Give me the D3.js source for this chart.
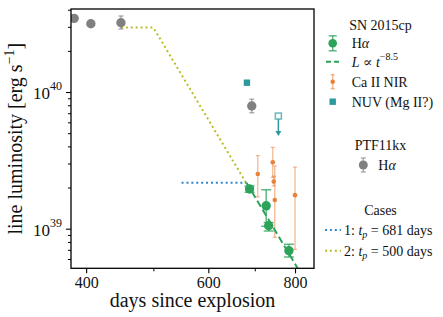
<!DOCTYPE html>
<html><head><meta charset="utf-8">
<script src="https://cdn.jsdelivr.net/npm/d3@7"></script>
<style>body{margin:0;background:#fff}svg{font-family:"Liberation Serif","DejaVu Serif",serif}</style>
</head><body><svg id="c" width="443" height="317"></svg>
<script>
// ---- data ----
const haDays = [688, 727, 733, 784];
const haLum  = [1.95e39, 1.47e39, 1.05e39, 6.9e38];
const haLo   = [1.85e39, 1.04e39, 0.96e39, 6.2e38];
const haHi   = [2.05e39, 1.93e39, 1.11e39, 7.7e38];
const caDays = [707, 743, 745.5, 748, 800];
const caLum  = [2.51e39, 3.06e39, 2.21e39, 1.62e39, 1.76e39];
const caLo   = [1.71e39, 2.37e39, 2.06e39, 8.65e38, 7.06e38];
const caHi   = [3.42e39, 3.94e39, 2.42e39, 2.88e39, 2.82e39];
const nuvDays = [682], nuvLum = [1.17e40];
const nuvLimDays = [757], nuvLimLum = [6.67e39];
const ptfDays = [384.4, 406.3, 449, 693];
const ptfLum  = [3.46e40, 3.16e40, 3.21e40, 7.9e39];
const ptfLo   = [3.4e40, 3.1e40, 2.89e40, 7.06e39];
const ptfHi   = [3.52e40, 3.22e40, 3.6e40, 8.84e39];
const case1Days = [549, 681], case1Lum = [2.17e39, 2.17e39];
const case2Days = [449, 500, 681], case2Lum = [2.96e40, 2.96e40, 2.14e39];
const plDays = [681, 830], plLum = [2.17e39, 4.04e38];
const xTicks = [400, 600, 800], xMinor = [500, 700];
const yTicks = [1e39, 1e40];
const yTickExp = ["39", "40"];

// ---- styles ----
const GREEN = "#2ca25a", ORANGE = "#e8823a", TEAL = "#2b9a9c", GRAY = "#808080",
      BLUE = "#2f86c8", OLIVE = "#bcbd22";
const L = 71, R = 314, T = 9, B = 268.3;
const svg = d3.select("#c");
const x = d3.scaleLog().domain([380.4, 852]).range([L, R]);
const y = d3.scaleLog().domain([5.13e38, 4.05e40]).range([B, T]);

svg.append("defs").append("clipPath").attr("id", "clip")
  .append("rect").attr("x", L).attr("y", T).attr("width", R - L).attr("height", B - T);
const g = svg.append("g").attr("clip-path", "url(#clip)");

const line = d3.line().x(d => x(d[0])).y(d => y(d[1]));
const zip = (a, b) => a.map((v, i) => [v, b[i]]);

// model lines
g.append("path").attr("d", line(zip(case2Days, case2Lum))).attr("fill", "none")
  .attr("stroke", OLIVE).attr("stroke-width", 2).attr("stroke-dasharray", "2,2.9");
g.append("path").attr("d", line(zip(case1Days, case1Lum))).attr("fill", "none")
  .attr("stroke", BLUE).attr("stroke-width", 2).attr("stroke-dasharray", "2,2.9");

function errbars(days, lo, hi, color, cap, op, sw) {
  days.forEach((d, i) => {
    const xx = x(d);
    g.append("line").attr("x1", xx).attr("x2", xx).attr("y1", y(lo[i])).attr("y2", y(hi[i]))
      .attr("stroke", color).attr("stroke-opacity", op).attr("stroke-width", sw);
    [lo[i], hi[i]].forEach(v => g.append("line").attr("x1", xx - cap).attr("x2", xx + cap)
      .attr("y1", y(v)).attr("y2", y(v)).attr("stroke", color).attr("stroke-opacity", op).attr("stroke-width", sw));
  });
}

// PTF11kx
errbars(ptfDays, ptfLo, ptfHi, GRAY, 2.5, 0.6, 1.5);
ptfDays.forEach((d, i) => g.append("circle").attr("cx", x(d)).attr("cy", y(ptfLum[i])).attr("r", 4.7).attr("fill", GRAY));

// Ca II
errbars(caDays, caLo, caHi, ORANGE, 2, 0.55, 1.3);
caDays.forEach((d, i) => g.append("circle").attr("cx", x(d)).attr("cy", y(caLum[i])).attr("r", 2.3).attr("fill", ORANGE));

// Halpha SN 2015cp
errbars(haDays, haLo, haHi, GREEN, 5, 0.75, 1.5);
haDays.forEach((d, i) => g.append("circle").attr("cx", x(d)).attr("cy", y(haLum[i])).attr("r", 4.7).attr("fill", GREEN));

// power law
g.append("path").attr("d", line(zip(plDays, plLum))).attr("fill", "none")
  .attr("stroke", GREEN).attr("stroke-width", 2).attr("stroke-dasharray", "7,3.5");

// NUV
nuvDays.forEach((d, i) => g.append("rect").attr("x", x(d) - 3.2).attr("y", y(nuvLum[i]) - 3.2)
  .attr("width", 6.4).attr("height", 6.4).attr("fill", TEAL));
nuvLimDays.forEach((d, i) => {
  const xx = x(d), yy = y(nuvLimLum[i]);
  g.append("line").attr("x1", xx).attr("x2", xx).attr("y1", yy).attr("y2", yy + 17)
    .attr("stroke", TEAL).attr("stroke-width", 1.5);
  g.append("path").attr("d", `M${xx - 3},${yy + 15} L${xx + 3},${yy + 15} L${xx},${yy + 20} Z`).attr("fill", TEAL);
  g.append("rect").attr("x", xx - 3).attr("y", yy - 3).attr("width", 6).attr("height", 6)
    .attr("fill", "#fff").attr("stroke", TEAL).attr("stroke-opacity", 0.7).attr("stroke-width", 1.5);
});

// ---- axes ----
svg.append("rect").attr("x", L).attr("y", T).attr("width", R - L).attr("height", B - T)
  .attr("fill", "none").attr("stroke", "#000").attr("stroke-width", 1.3);

const xa = svg.append("g").attr("transform", `translate(0,${B})`)
  .call(d3.axisBottom(x).tickValues(xTicks).tickFormat(d3.format("d")).tickSize(5).tickPadding(3));
xa.select(".domain").remove();
xa.selectAll("text").attr("font-size", 16).attr("font-family", "Liberation Serif").attr("fill", "#111");
xa.selectAll("line").attr("stroke-width", 1.1);
const xm = svg.append("g").attr("transform", `translate(0,${B})`)
  .call(d3.axisBottom(x).tickValues(xMinor).tickFormat("").tickSize(3));
xm.select(".domain").remove();

const yMinor = [];
[1e38, 1e39, 1e40].forEach(p => { for (let k = 2; k <= 9; k++) { const v = k * p; if (v > 5.13e38 && v < 4.05e40) yMinor.push(v); } });
const ym = svg.append("g").attr("transform", `translate(${L},0)`)
  .call(d3.axisLeft(y).tickValues(yMinor).tickFormat("").tickSize(3));
ym.select(".domain").remove();
const ya = svg.append("g").attr("transform", `translate(${L},0)`)
  .call(d3.axisLeft(y).tickValues(yTicks).tickFormat("").tickSize(5));
ya.select(".domain").remove();
ya.selectAll("line").attr("stroke-width", 1.1);
yTicks.forEach((v, i) => {
  const t = svg.append("text").attr("x", 62).attr("y", y(v) + 7).attr("text-anchor", "end")
    .attr("font-size", 17).attr("fill", "#111");
  t.append("tspan").text("10");
  t.append("tspan").attr("dy", -9).attr("font-size", 12).text(yTickExp[i]);
});

svg.append("text").attr("x", (L + R) / 2).attr("y", 307).attr("text-anchor", "middle")
  .attr("font-size", 20).attr("fill", "#111").text("days since explosion");
const yl = svg.append("text").attr("transform", `translate(22,${(T + B) / 2}) rotate(-90)`)
  .attr("text-anchor", "middle").attr("font-size", 20).attr("fill", "#111");
yl.append("tspan").text("line luminosity [erg s");
yl.append("tspan").attr("dy", -8).attr("font-size", 14).text("\u22121");
yl.append("tspan").attr("dy", 8).text("]");

// ---- legend ----
const lg = svg.append("g").attr("font-size", 14).attr("fill", "#111");
const LX = 332.7, TX = 351.7, CX = 380.5;
lg.append("text").attr("x", CX).attr("y", 30).attr("text-anchor", "middle").text("SN 2015cp");
function legErr(cx, cy, color, r, cap, op, half) {
  lg.append("line").attr("x1", cx).attr("x2", cx).attr("y1", cy - half).attr("y2", cy + half)
    .attr("stroke", color).attr("stroke-opacity", op).attr("stroke-width", 1.5);
  [cy - half, cy + half].forEach(v => lg.append("line").attr("x1", cx - cap).attr("x2", cx + cap)
    .attr("y1", v).attr("y2", v).attr("stroke", color).attr("stroke-opacity", op).attr("stroke-width", 1.5));
  lg.append("circle").attr("cx", cx).attr("cy", cy).attr("r", r).attr("fill", color);
}
function haText(xx, yy) {
  const t = lg.append("text").attr("x", xx).attr("y", yy + 5);
  t.append("tspan").text("H");
  t.append("tspan").attr("font-style", "italic").text("\u03b1");
}
legErr(LX, 43.3, GREEN, 4.3, 4, 0.75, 7.5); haText(TX, 43.3);
lg.append("line").attr("x1", 326).attr("x2", 341).attr("y1", 61.7).attr("y2", 61.7)
  .attr("stroke", GREEN).attr("stroke-width", 2).attr("stroke-dasharray", "5,3");
{ const t = lg.append("text").attr("x", TX).attr("y", 66.7);
  t.append("tspan").attr("font-style", "italic").text("L");
  t.append("tspan").text(" \u221d ");
  t.append("tspan").attr("font-style", "italic").text("t");
  t.append("tspan").attr("dy", -7).attr("font-size", 10).text("\u22128.5"); }
legErr(LX, 81.7, ORANGE, 2.3, 2, 0.55, 7);
lg.append("text").attr("x", TX).attr("y", 86.7).text("Ca II NIR");
lg.append("rect").attr("x", LX - 3.2).attr("y", 101.7 - 3.2).attr("width", 6.4).attr("height", 6.4).attr("fill", TEAL);
lg.append("text").attr("x", TX).attr("y", 106.7).text("NUV (Mg II?)");

lg.append("text").attr("x", CX).attr("y", 150).attr("text-anchor", "middle").text("PTF11kx");
legErr(363.3, 165, GRAY, 4.5, 2.5, 0.6, 7); haText(378.3, 165);

lg.append("text").attr("x", CX).attr("y", 215).attr("text-anchor", "middle").text("Cases");
function caseRow(yy, color, num, val) {
  lg.append("line").attr("x1", 325).attr("x2", 341).attr("y1", yy).attr("y2", yy)
    .attr("stroke", color).attr("stroke-width", 2).attr("stroke-dasharray", "2,2.9");
  const t = lg.append("text").attr("x", 344).attr("y", yy + 5);
  t.append("tspan").text(num + ": ");
  t.append("tspan").attr("font-style", "italic").text("t");
  t.append("tspan").attr("dy", 3).attr("font-size", 10).attr("font-style", "italic").text("p");
  t.append("tspan").attr("dy", -3).text(" = " + val + " days");
}
caseRow(230, BLUE, 1, 681);
caseRow(250.7, OLIVE, 2, 500);
</script></body></html>
